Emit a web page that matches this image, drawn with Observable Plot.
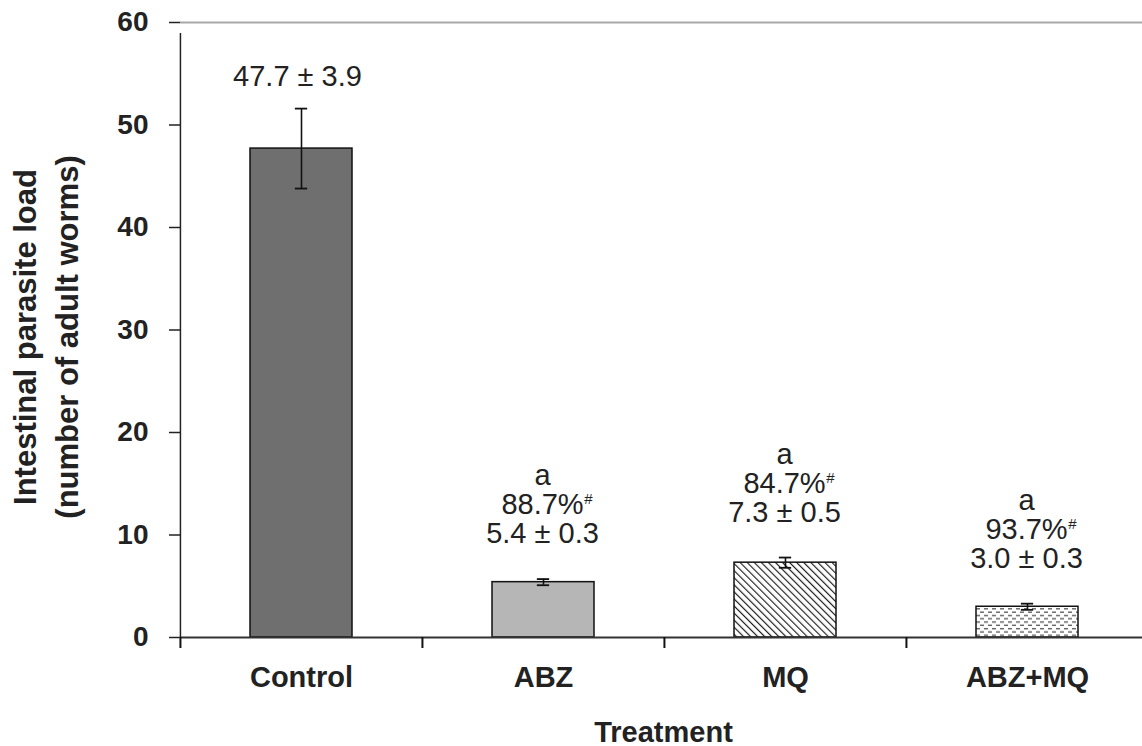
<!DOCTYPE html>
<html>
<head>
<meta charset="utf-8">
<script src="https://cdn.jsdelivr.net/npm/d3@7"></script>
<script src="https://cdn.jsdelivr.net/npm/@observablehq/plot@0.6"></script>
<style>
  html, body { margin: 0; padding: 0; background: white; overflow: hidden; }
</style>
</head>
<body>
<div id="chart"></div>
<script>
// ---- data ----
const categories = ["Control", "ABZ", "MQ", "ABZ+MQ"];
const means = [47.7, 5.4, 7.3, 3.0];
const sds = [3.9, 0.3, 0.5, 0.3];
const letters = ["", "a", "a", "a"];
const reductions = [null, 88.7, 84.7, 93.7];
const yTicks = [0, 10, 20, 30, 40, 50, 60];
const xTitle = "Treatment";
const yTitleLines = ["Intestinal parasite load", "(number of adult worms)"];

const rows = categories.map((c, i) => ({
  treatment: c, mean: means[i], sd: sds[i], letter: letters[i], reduction: reductions[i]
}));
const control = rows.filter(d => d.reduction == null);
const treated = rows.filter(d => d.reduction != null);

// ---- layout ----
const W = 1142, H = 746, mL = 180, mT = 22, mB = 109;
const xRange = [180, 1148.5];
const step = (xRange[1] - xRange[0]) / categories.length;
const pInner = 0.58;
const bandW = step * (1 - pInner);
const capW = 12;
const font = "Liberation Sans, Arial, Helvetica, sans-serif";
const ink = "#222";
const annoSize = 29;

const fmt = v => v.toFixed(1);

const plot = Plot.plot({
  width: W, height: H,
  marginLeft: mL, marginRight: 0, marginTop: mT, marginBottom: mB,
  style: { fontFamily: font, background: "white", color: ink },
  x: { domain: categories, range: xRange, paddingInner: pInner, paddingOuter: pInner / 2 },
  y: { domain: [0, 60] },
  color: { domain: categories, range: ["#6f6f6f", "#b5b6b5", "url(#hatch)", "url(#dashes)"] },
  marks: [
    Plot.ruleY([60], { stroke: "#a8a8a8", strokeWidth: 2 }),
    Plot.barY(rows, { x: "treatment", y: "mean", fill: "treatment", stroke: "#111", strokeWidth: 1.5 }),
    Plot.ruleX(rows, { x: "treatment", y1: d => d.mean - d.sd, y2: d => d.mean + d.sd, stroke: "#111", strokeWidth: 1.6 }),
    Plot.tickY(rows, { x: "treatment", y: d => d.mean + d.sd, insetLeft: (bandW - capW) / 2, insetRight: (bandW - capW) / 2, stroke: "#111", strokeWidth: 1.8 }),
    Plot.tickY(rows, { x: "treatment", y: d => d.mean - d.sd, insetLeft: (bandW - capW) / 2, insetRight: (bandW - capW) / 2, stroke: "#111", strokeWidth: 1.8 }),
    // x axis line
    Plot.ruleY([0], { stroke: "#333", strokeWidth: 2 }),
    // y axis line (left boundary of the first band)
    Plot.ruleX([categories[0]], { x: d => d, dx: -step / 2, y1: 0, y2: 60, insetBottom: -11, stroke: ink, strokeWidth: 1.5 }),
    // x ticks at band boundaries
    Plot.ruleX(categories, { x: d => d, dx: -step / 2, y1: 0, y2: 0, insetBottom: -11, stroke: "#111", strokeWidth: 2 }),
    Plot.axisY({ ticks: yTicks, tickSize: 11, tickPadding: 21, fontSize: 28, fontWeight: "bold", strokeWidth: 1.5, label: null, fill: ink }),
    Plot.axisX({ tickSize: 0, tickPadding: 29, fontSize: 29, fontWeight: "bold", label: null, fill: ink }),
    // axis titles
    Plot.text([xTitle], { frameAnchor: "bottom", lineAnchor: "bottom", dy: 104, dx: 2, fontSize: 29, fontWeight: "bold", fill: ink }),
    Plot.text([yTitleLines[0]], { frameAnchor: "left", textAnchor: "middle", rotate: -90, lineAnchor: "bottom", dx: 35 - mL, dy: 7, fontSize: 31, fontWeight: "bold", fill: ink }),
    Plot.text([yTitleLines[1]], { frameAnchor: "left", textAnchor: "middle", rotate: -90, lineAnchor: "bottom", dx: 77 - mL, dy: 7, fontSize: 31, fontWeight: "bold", fill: ink }),
    // annotations
    Plot.text(control, {
      x: "treatment", y: d => d.mean + d.sd,
      text: d => `${fmt(d.mean)} ± ${fmt(d.sd)}`,
      lineAnchor: "bottom", dy: -23, dx: -4, fontSize: annoSize, fill: ink
    }),
    Plot.text(treated, {
      x: "treatment", y: d => d.mean + d.sd,
      text: d => `${d.letter}\n${fmt(d.reduction)}%\n${fmt(d.mean)} ± ${fmt(d.sd)}`,
      lineAnchor: "bottom", lineHeight: 1.0, dy: -36, dx: -1, fontSize: annoSize, fill: ink
    }),
    Plot.text(treated, {
      x: "treatment", y: d => d.mean + d.sd,
      text: () => "#",
      lineAnchor: "bottom", dy: -36 - 29 - 10, dx: 45, fontSize: 15, fill: ink
    })
  ]
});

// patterns
const ns = "http://www.w3.org/2000/svg";
const svg = plot.tagName.toLowerCase() === "svg" ? plot : plot.querySelector("svg");
const defs = document.createElementNS(ns, "defs");
defs.innerHTML = `
  <pattern id="hatch" patternUnits="userSpaceOnUse" width="5" height="5" patternTransform="rotate(-45)">
    <rect width="5" height="5" fill="white"/>
    <line x1="0.6" y1="-1" x2="0.6" y2="6" stroke="#111" stroke-width="1.1"/>
  </pattern>
  <pattern id="dashes" patternUnits="userSpaceOnUse" width="8" height="6.6">
    <rect width="8" height="6.6" fill="white"/>
    <rect x="0" y="1" width="4" height="1.3" fill="#555"/>
    <rect x="4" y="4.3" width="4" height="1.3" fill="#555"/>
  </pattern>`;
svg.insertBefore(defs, svg.firstChild);

document.getElementById("chart").appendChild(plot);
</script>
</body>
</html>
